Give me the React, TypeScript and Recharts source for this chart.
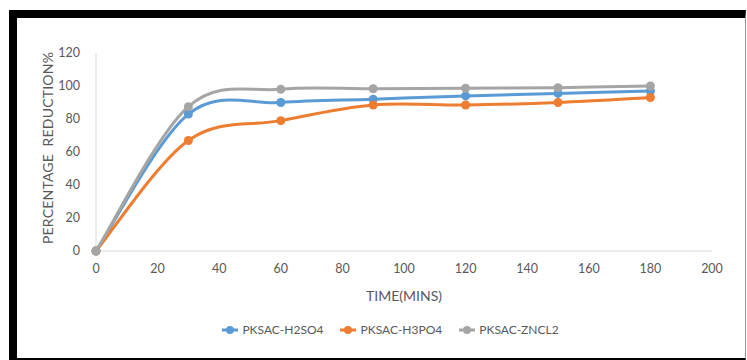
import { LineChart, Line, XAxis, YAxis, Legend } from "recharts";

const minutes = [0, 30, 60, 90, 120, 150, 180];
const h2so4 = [0, 83, 90, 92, 94, 95.5, 97];
const h3po4 = [0, 67, 79, 88.5, 88.5, 90, 93];
const zncl2 = [0, 87.5, 98, 98.3, 98.7, 99, 100];

const xTicks = [0, 20, 40, 60, 80, 100, 120, 140, 160, 180, 200];
const yTicks = [0, 20, 40, 60, 80, 100, 120];

const series = [
  { key: "h2so4", name: "PKSAC-H2SO4", color: "#5B9BD5" },
  { key: "h3po4", name: "PKSAC-H3PO4", color: "#ED7D31" },
  { key: "zncl2", name: "PKSAC-ZNCL2", color: "#A5A5A5" },
];

const data = minutes.map((t, i) => ({
  t,
  h2so4: h2so4[i],
  h3po4: h3po4[i],
  zncl2: zncl2[i],
}));

const FONT = "Lato, 'Open Sans', sans-serif";
const TEXT = "#595959";

// excel style smoothed line (catmull-rom as cubic bezier)
const excelCurve = (context: any) => {
  let pts: number[][] = [];
  return {
    areaStart() {},
    areaEnd() {},
    lineStart() {
      pts = [];
    },
    point(x: number, y: number) {
      pts.push([+x, +y]);
    },
    lineEnd() {
      if (!pts.length) return;
      context.moveTo(pts[0][0], pts[0][1]);
      for (let i = 0; i < pts.length - 1; i++) {
        const p0 = pts[i - 1] || pts[i];
        const p1 = pts[i];
        const p2 = pts[i + 1];
        const p3 = pts[i + 2] || p2;
        context.bezierCurveTo(
          p1[0] + (p2[0] - p0[0]) / 6,
          p1[1] + (p2[1] - p0[1]) / 6,
          p2[0] - (p3[0] - p1[0]) / 6,
          p2[1] - (p3[1] - p1[1]) / 6,
          p2[0],
          p2[1]
        );
      }
    },
  };
};

const LegendRow = ({ payload }: any) => (
  <div
    style={{
      display: "flex",
      justifyContent: "center",
      gap: 17,
      paddingLeft: 34,
      fontFamily: FONT,
      fontSize: 12,
      color: TEXT,
    }}
  >
    {(payload || []).map((p: any) => (
      <div key={p.value} style={{ display: "flex", alignItems: "center" }}>
        <svg width={16} height={10} style={{ marginRight: 4 }}>
          <line x1={0} y1={5} x2={16} y2={5} stroke={p.color} strokeWidth={3} />
          <circle cx={8} cy={5} r={4} fill={p.color} />
        </svg>
        <span>{p.value}</span>
      </div>
    ))}
  </div>
);

export default function App() {
  return (
    <div
      style={{
        position: "absolute",
        left: 0,
        top: 0,
        width: 747,
        height: 360,
        background: "#fff",
      }}
    >
      <div
        style={{
          position: "absolute",
          left: 9,
          top: 10,
          width: 737,
          height: 350,
          boxSizing: "border-box",
          borderLeft: "8px solid #000",
          borderTop: "8px solid #000",
          borderBottom: "2px solid #000",
          borderRight: "1px solid #999",
        }}
      />
      <div style={{ position: "absolute", left: 0, top: 0 }}>
        <LineChart
          width={747}
          height={360}
          data={data}
          margin={{ top: 53, right: 35, bottom: 64, left: 0 }}
        >
          <XAxis
            dataKey="t"
            type="number"
            domain={[0, 200]}
            ticks={xTicks}
            interval={0}
            axisLine={{ stroke: "#D9D9D9" }}
            tickLine={false}
            tickSize={0}
            tickMargin={13}
            height={30}
            tick={{ fontSize: 12.5, fill: TEXT, fontFamily: FONT }}
            label={{
              value: "TIME(MINS)",
              position: "bottom",
              offset: 10,
              style: { fontSize: 14, fill: TEXT, fontFamily: FONT },
            }}
          />
          <YAxis
            type="number"
            domain={[0, 120]}
            ticks={yTicks}
            interval={0}
            width={96}
            axisLine={{ stroke: "#D9D9D9" }}
            tickLine={false}
            tickSize={0}
            tickMargin={16}
            tick={{ fontSize: 12.5, fill: TEXT, fontFamily: FONT }}
            label={{
              value: "PERCENTAGE\u00A0 REDUCTION%",
              angle: -90,
              position: "center",
              dy: -4,
              style: { fontSize: 14, fill: TEXT, fontFamily: FONT, letterSpacing: 0.2 },
            }}
          />
          <Legend
            verticalAlign="bottom"
            wrapperStyle={{ top: 322, left: 0, width: 747 }}
            content={<LegendRow />}
          />
          {series.map((s) => (
            <Line
              key={s.key}
              type={excelCurve as any}
              dataKey={s.key}
              name={s.name}
              stroke={s.color}
              strokeWidth={3}
              dot={{ r: 4.5, fill: s.color, stroke: s.color, strokeWidth: 0 }}
              activeDot={false}
              isAnimationActive={false}
            />
          ))}
        </LineChart>
      </div>
    </div>
  );
}
